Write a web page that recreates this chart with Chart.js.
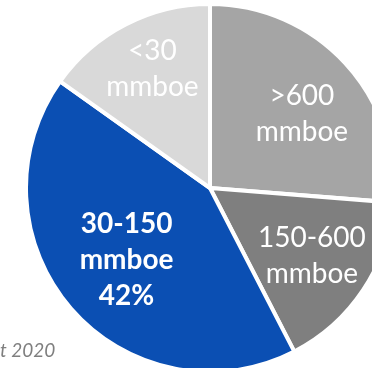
<!DOCTYPE html>
<html>
<head>
<meta charset="utf-8">
<script src="https://cdn.jsdelivr.net/npm/chart.js@4/dist/chart.umd.min.js"></script>
<style>
  html, body { margin: 0; padding: 0; background: #ffffff; }
  #wrap { position: relative; width: 372px; height: 368px; overflow: hidden; }
  canvas { display: block; }
</style>
</head>
<body>
<div id="wrap"><canvas id="chart" width="372" height="368"></canvas></div>
<script>
// Discovered resources by field size class (share of total, %)
const categories = ['>600 mmboe', '150-600 mmboe', '30-150 mmboe', '<30 mmboe'];
const shares = [26, 16, 42, 15];
const sliceColors = ['#A5A5A5', '#7F7F7F', '#0B4FB3', '#D9D9D9'];
const highlighted = '30-150 mmboe';
const footnote = 't 2020';

const FONT = 'Lato, "Open Sans", "Liberation Sans", sans-serif';

// Radial placement of each slice label (fraction of radius, angle nudge in degrees)
const labelPlacement = [
  { frac: 0.64, nudge: 4 },
  { frac: 0.665, nudge: 0 },
  { frac: 0.60, nudge: 0 },
  { frac: 0.72, nudge: 1.5 }
];

const sliceLabels = {
  id: 'sliceLabels',
  afterDatasetsDraw(chart) {
    const ctx = chart.ctx;
    const meta = chart.getDatasetMeta(0);
    ctx.save();
    ctx.textAlign = 'center';
    ctx.textBaseline = 'middle';
    ctx.fillStyle = '#ffffff';
    meta.data.forEach((arc, i) => {
      const p = arc.getProps(['x', 'y', 'startAngle', 'endAngle', 'outerRadius'], true);
      const place = labelPlacement[i];
      const mid = (p.startAngle + p.endAngle) / 2 + place.nudge * Math.PI / 180;
      const r = p.outerRadius * place.frac;
      const cx = p.x + Math.cos(mid) * r;
      const cy = p.y + Math.sin(mid) * r;
      const name = categories[i];
      const isBold = name === highlighted;
      const lines = name.split(' ');
      if (isBold) lines.push(shares[i] + '%');
      ctx.font = (isBold ? 'bold ' : '') + '28px ' + FONT;
      const lh = 36;
      const top = cy - (lines.length - 1) * lh / 2;
      lines.forEach((t, k) => ctx.fillText(t, cx, top + k * lh));
    });
    ctx.restore();
  },
  afterDraw(chart) {
    const ctx = chart.ctx;
    ctx.save();
    ctx.font = 'italic 19px ' + FONT;
    ctx.fillStyle = '#7F7F7F';
    ctx.textAlign = 'left';
    ctx.textBaseline = 'alphabetic';
    ctx.fillText(footnote, 0, 357);
    ctx.restore();
  }
};

new Chart(document.getElementById('chart'), {
  type: 'pie',
  data: {
    labels: categories,
    datasets: [{
      data: shares,
      backgroundColor: sliceColors,
      borderColor: '#ffffff',
      borderWidth: 4,
      clip: false
    }]
  },
  options: {
    responsive: false,
    animation: false,
    radius: 184,
    layout: { padding: { left: 48, right: 0, top: 8, bottom: 0 } },
    plugins: {
      legend: { display: false },
      tooltip: { enabled: false }
    }
  },
  plugins: [sliceLabels]
});
</script>
</body>
</html>
